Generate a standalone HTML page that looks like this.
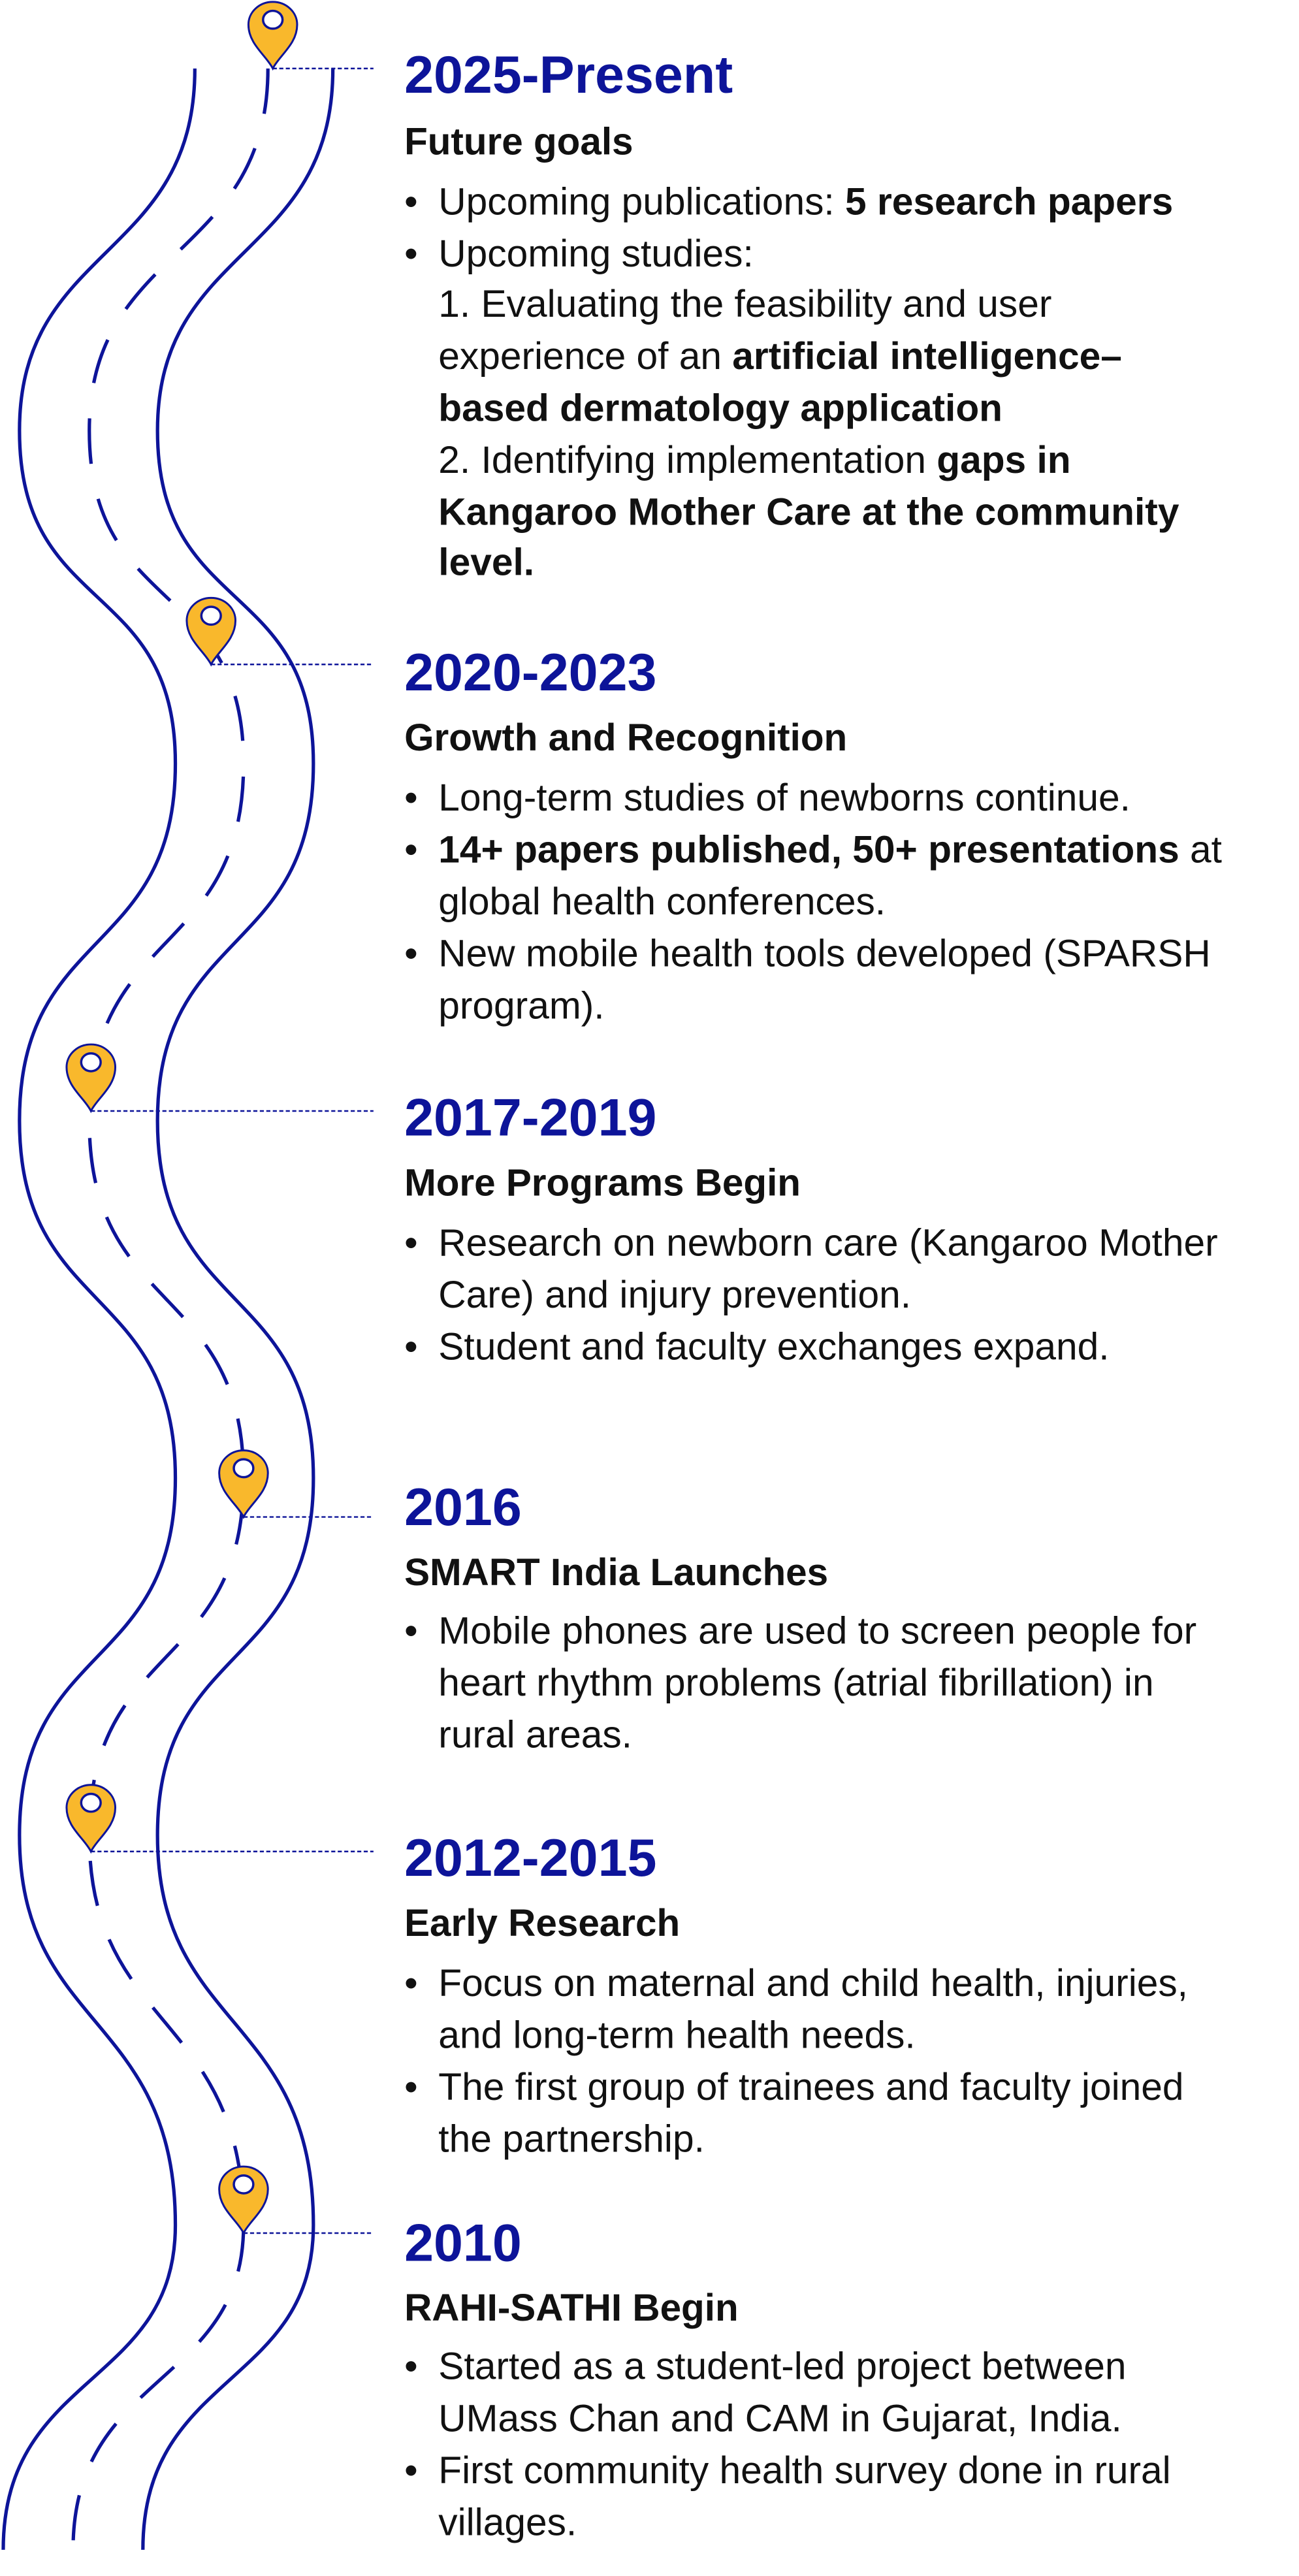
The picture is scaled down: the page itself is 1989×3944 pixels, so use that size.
<!DOCTYPE html>
<html><head><meta charset="utf-8"><style>
html,body{margin:0;padding:0;background:#fff;}
svg{display:block;}
text{font-family:"Liberation Sans","DejaVu Sans",sans-serif;}
.h{fill:#0d1499;font-size:32.5px;font-weight:700;}
.s{fill:#111;font-size:23.5px;font-weight:700;}
.b{fill:#111;font-size:23.6px;}
.b tspan.k{font-weight:700;}
</style></head><body>
<svg width="1989" height="3944" viewBox="0 0 800 1586" xmlns="http://www.w3.org/2000/svg">
<defs>
<g id="pin">
<path d="M0,0 C-4,-8 -15,-15 -15,-27 A15,14 0 1 1 15,-27 C15,-15 4,-8 0,0Z" fill="#f9b82c" stroke="#0d1499" stroke-width="1.2"/>
<ellipse cx="0" cy="-30" rx="6" ry="5.5" fill="#fff" stroke="#0d1499" stroke-width="1.4"/>
</g>
</defs>
<g fill="none" stroke="#0d1499" stroke-width="2.1">
<path d="M120,42 C120,160 12,150 12,265 C12,380 108,355 108,470 C108,590 12,570 12,690 C12,810 108,790 108,910 C108,1030 12,1010 12,1130 C12,1250 108,1240 108,1370 C108,1470 2,1460 2,1570"/>
<path d="M205,42 C205,160 97,150 97,265 C97,380 193,355 193,470 C193,590 97,570 97,690 C97,810 193,790 193,910 C193,1030 97,1010 97,1130 C97,1250 193,1240 193,1370 C193,1470 88,1460 88,1570"/>
<path d="M165,42 C165,160 55,150 55,265 C55,380 150,355 150,470 C150,590 55,570 55,690 C55,810 150,790 150,910 C150,1030 55,1010 55,1130 C55,1250 150,1240 150,1370 C150,1470 45,1460 45,1570" stroke-dasharray="28,22"/>
</g>
<g stroke="#0d1499" stroke-width="1" stroke-dasharray="2.5,1.5">
<line x1="168" y1="42" x2="230" y2="42"/>
<line x1="130" y1="409" x2="230" y2="409"/>
<line x1="56" y1="684" x2="230" y2="684"/>
<line x1="150" y1="934" x2="230" y2="934"/>
<line x1="56" y1="1140" x2="230" y2="1140"/>
<line x1="150" y1="1375" x2="230" y2="1375"/>
</g>
<use href="#pin" x="168" y="42"/>
<use href="#pin" x="130" y="409"/>
<use href="#pin" x="56" y="684"/>
<use href="#pin" x="150" y="934"/>
<use href="#pin" x="56" y="1140"/>
<use href="#pin" x="150" y="1375"/>

<text class="h" x="249" y="57">2025-Present</text>
<text class="s" x="249" y="95">Future goals</text>
<text class="b" x="249" y="132">•</text><text class="b" x="270" y="132">Upcoming publications: <tspan class="k">5 research papers</tspan></text>
<text class="b" x="249" y="164">•</text><text class="b" x="270" y="164">Upcoming studies:</text>
<text class="b" x="270" y="195">1. Evaluating the feasibility and user</text>
<text class="b" x="270" y="227">experience of an <tspan class="k">artificial intelligence–</tspan></text>
<text class="b" x="270" y="259"><tspan class="k">based dermatology application</tspan></text>
<text class="b" x="270" y="291">2. Identifying implementation <tspan class="k">gaps in</tspan></text>
<text class="b" x="270" y="323"><tspan class="k">Kangaroo Mother Care at the community</tspan></text>
<text class="b" x="270" y="354"><tspan class="k">level.</tspan></text>

<text class="h" x="249" y="425">2020-2023</text>
<text class="s" x="249" y="462">Growth and Recognition</text>
<text class="b" x="249" y="499">•</text><text class="b" x="270" y="499">Long-term studies of newborns continue.</text>
<text class="b" x="249" y="531">•</text><text class="b" x="270" y="531"><tspan class="k">14+ papers published, 50+ presentations</tspan> at</text>
<text class="b" x="270" y="563">global health conferences.</text>
<text class="b" x="249" y="595">•</text><text class="b" x="270" y="595">New mobile health tools developed (SPARSH</text>
<text class="b" x="270" y="627">program).</text>

<text class="h" x="249" y="699">2017-2019</text>
<text class="s" x="249" y="736">More Programs Begin</text>
<text class="b" x="249" y="773">•</text><text class="b" x="270" y="773">Research on newborn care (Kangaroo Mother</text>
<text class="b" x="270" y="805">Care) and injury prevention.</text>
<text class="b" x="249" y="837">•</text><text class="b" x="270" y="837">Student and faculty exchanges expand.</text>

<text class="h" x="249" y="939">2016</text>
<text class="s" x="249" y="976">SMART India Launches</text>
<text class="b" x="249" y="1012">•</text><text class="b" x="270" y="1012">Mobile phones are used to screen people for</text>
<text class="b" x="270" y="1044">heart rhythm problems (atrial fibrillation) in</text>
<text class="b" x="270" y="1076">rural areas.</text>

<text class="h" x="249" y="1155">2012-2015</text>
<text class="s" x="249" y="1192">Early Research</text>
<text class="b" x="249" y="1229">•</text><text class="b" x="270" y="1229">Focus on maternal and child health, injuries,</text>
<text class="b" x="270" y="1261">and long-term health needs.</text>
<text class="b" x="249" y="1293">•</text><text class="b" x="270" y="1293">The first group of trainees and faculty joined</text>
<text class="b" x="270" y="1325">the partnership.</text>

<text class="h" x="249" y="1392">2010</text>
<text class="s" x="249" y="1429">RAHI-SATHI Begin</text>
<text class="b" x="249" y="1465">•</text><text class="b" x="270" y="1465">Started as a student-led project between</text>
<text class="b" x="270" y="1497">UMass Chan and CAM in Gujarat, India.</text>
<text class="b" x="249" y="1529">•</text><text class="b" x="270" y="1529">First community health survey done in rural</text>
<text class="b" x="270" y="1561">villages.</text>
</svg>
</body></html>
